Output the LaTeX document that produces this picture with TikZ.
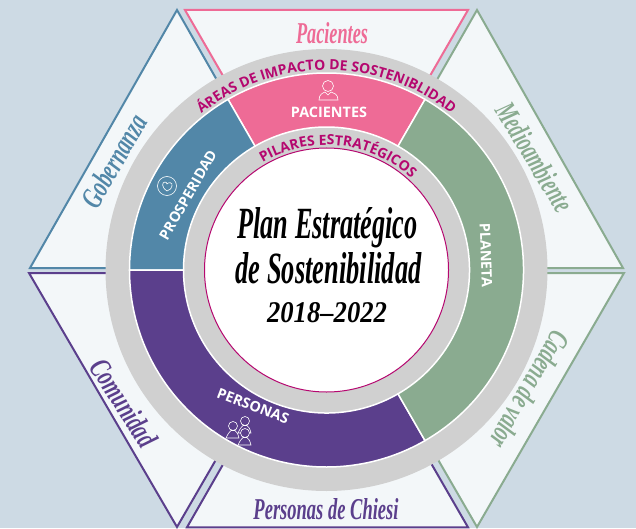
\documentclass[tikz,border=0pt]{standalone}
\usepackage{fontspec}
\usepackage{graphicx}
\setmainfont{Liberation Serif}
\newfontfamily\capsfont{Open Sans}
\usetikzlibrary{decorations.text}
\definecolor{bgc}{HTML}{CDDAE4}
\definecolor{lightc}{HTML}{F3F7F9}
\definecolor{pinkc}{HTML}{EE6B96}
\definecolor{bluec}{HTML}{5287A8}
\definecolor{greenc}{HTML}{8AAB90}
\definecolor{purplec}{HTML}{5B3F8C}
\definecolor{greyc}{HTML}{D0D0D0}
\definecolor{magc}{HTML}{B5076F}
\newcommand{\scrb}[3]{\resizebox{#1pt}{#2pt}{\bfseries\itshape #3}}
\newcommand{\arcF}{\capsfont\bfseries\fontsize{14}{15}\selectfont\color{magc}}
\newcommand{\pilF}{\capsfont\bfseries\fontsize{14}{15}\selectfont\color{magc}}
\tikzset{
  tri/.style={fill=lightc,draw=#1,line width=2pt,line join=miter},
  seg/.style={fill=#1,draw=white,line width=1.5pt},
  caplabel/.style={text=white,font=\capsfont\bfseries\fontsize{14.4}{15}\selectfont,inner sep=0pt},
  scrlabel/.style={text=#1,inner sep=0pt},
  ico/.style={draw=white,line width=0.6pt},
}
\begin{document}
\begin{tikzpicture}[x=1pt,y=1pt]
\useasboundingbox (0,0) rectangle (636,528);
\fill[bgc] (0,0) rectangle (636,528);
% triangles
\draw[tri=pinkc] (185,518) -- (468,518) -- (326.5,273) -- cycle;
\draw[tri=bluec] (177,518) -- (30,260) -- (324,260) -- cycle;
\draw[tri=greenc] (477,518) -- (623,260) -- (329,260) -- cycle;
\draw[tri=purplec] (29,255) -- (177,1) -- (324,255) -- cycle;
\draw[tri=greenc] (624,255) -- (477,1) -- (330,255) -- cycle;
\draw[tri=purplec] (187,0.7) -- (468,0.7) -- (327,245) -- cycle;
% rings
\fill[greyc] (326.5,258) circle[radius=221];
\begin{scope}[shift={(326.5,258)}]
\draw[seg=pinkc] (60:143) -- (60:197) arc[start angle=60,end angle=120,radius=197] -- (120:143) arc[start angle=120,end angle=60,radius=143] -- cycle;
\draw[seg=bluec] (120:143) -- (120:197) arc[start angle=120,end angle=180,radius=197] -- (180:143) arc[start angle=180,end angle=120,radius=143] -- cycle;
\draw[seg=purplec] (180:143) -- (180:197) arc[start angle=180,end angle=300,radius=197] -- (300:143) arc[start angle=300,end angle=180,radius=143] -- cycle;
\draw[seg=greenc] (300:143) -- (300:197) arc[start angle=300,end angle=420,radius=197] -- (60:143) arc[start angle=60,end angle=-60,radius=143] -- cycle;
\fill[white] (0,0) circle[radius=122];
\draw[magc,line width=1pt] (0,0) circle[radius=122];
\path[decorate,decoration={text along path,text align=center,text={|\arcF|ÁREAS DE IMPACTO DE SOSTENIBLIDAD}}]
  (170:200) arc[start angle=170,end angle=10,radius=200];
\path[decorate,decoration={text along path,text align=center,text={|\pilF|PILARES ESTRATÉGICOS}}]
  (174:125) arc[start angle=174,end angle=-6,radius=125];
\end{scope}
% area labels
\node[caplabel] (pac) at (329,416) {PACIENTES};
\node[caplabel,rotate=60] (pro) at (188,333) {PROSPERIDAD};
\node[caplabel,rotate=-88] (pla) at (486,273) {PLANETA};
\node[caplabel,rotate=-21] (per) at (253,122) {PERSONAS};
% title
\node[inner sep=0pt] (t1) at (327.5,300) {\scrb{180}{31}{Plan Estratégico}};
\node[inner sep=0pt] (t2) at (328.5,260) {\scrb{186}{31}{de Sostenibilidad}};
\node[inner sep=0pt] (t3) at (327,215) {\scrb{120}{20}{2018–2022}};
% outer labels
\node[scrlabel=pinkc] (l1) at (332,495) {\scrb{72}{21}{Pacientes}};
\node[scrlabel=bluec,rotate=60] (l2) at (114,367) {\scrb{102}{21}{Gobernanza}};
\node[scrlabel=greenc,rotate=-59] (l3) at (535,371) {\scrb{122}{21}{Medioambiente}};
\node[scrlabel=greenc,rotate=-120] (l4) at (530,138) {\scrb{130}{21}{Cadena de valor}};
\node[scrlabel=purplec,rotate=-57] (l5) at (124,125) {\scrb{98}{21}{Comunidad}};
\node[scrlabel=purplec] (l6) at (326,19) {\scrb{145}{21}{Personas de Chiesi}};
% icons
\draw[ico] (328,442) circle[radius=5.5];
\draw[ico] (319,428) .. controls (319,434) and (323,435) .. (325,436) -- (328,433) -- (331,436) .. controls (334,435) and (338,434) .. (338,428) -- cycle;
\draw[ico] (167,342) circle[radius=9.5];
\draw[ico] (167,337) .. controls (161,341) and (162,346) .. (165,346) .. controls (166,346) and (167,345) .. (167,344) .. controls (168,346) and (173,346) .. (172,342) .. controls (172,340) and (170,338) .. (167,337) -- cycle;
\foreach \x/\y in {246/105,234/100,246/93}{
 \draw[ico,fill=purplec] (\x-1,\y+2) circle[radius=4.5];
 \draw[ico,fill=purplec] (\x-8,\y-10) .. controls (\x-6,\y-6) and (\x-5,\y-4) .. (\x-3,\y-2.5) -- (\x+1,\y-2.5) .. controls (\x+3,\y-4) and (\x+4,\y-6) .. (\x+5,\y-10) -- cycle;
}
\end{tikzpicture}
\end{document}
